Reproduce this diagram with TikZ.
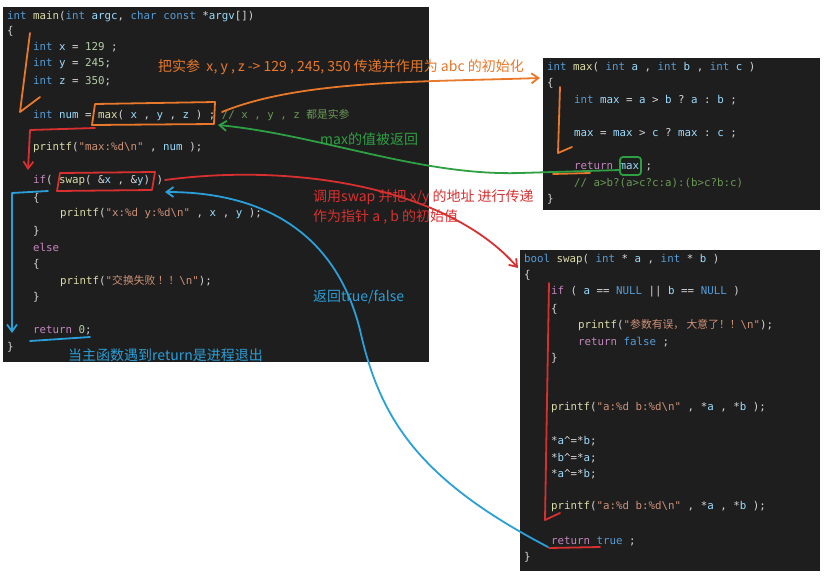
\documentclass[tikz,border=0pt]{standalone}
\usepackage{fontspec}
\setmonofont{DejaVu Sans Mono}
\newfontfamily\cjk{Noto Sans CJK SC}
\usetikzlibrary{arrows.meta}
\definecolor{bgc}{HTML}{1E1E1E}
\definecolor{kwc}{HTML}{569CD6}
\definecolor{fnc}{HTML}{DCDCAA}
\definecolor{vrc}{HTML}{9CDCFE}
\definecolor{nuc}{HTML}{B5CEA8}
\definecolor{stc}{HTML}{CE9178}
\definecolor{pkc}{HTML}{C586C0}
\definecolor{cmc}{HTML}{6A9955}
\definecolor{dfc}{HTML}{D4D4D4}
\definecolor{ora}{HTML}{E8782A}
\definecolor{grn}{HTML}{2EA043}
\definecolor{rdd}{HTML}{D83030}
\definecolor{blu}{HTML}{2A9FD8}
\newcommand\KW[1]{\textcolor{kwc}{#1}}
\newcommand\FN[1]{\textcolor{fnc}{#1}}
\newcommand\VR[1]{\textcolor{vrc}{#1}}
\newcommand\NU[1]{\textcolor{nuc}{#1}}
\newcommand\ST[1]{\textcolor{stc}{#1}}
\newcommand\PK[1]{\textcolor{pkc}{#1}}
\newcommand\CM[1]{\textcolor{cmc}{#1}}
\newcommand\ZH[1]{{\cjk #1}}
\begin{document}
\begin{tikzpicture}[x=1pt,y=-1pt,
  code/.style={anchor=west,inner sep=0pt,text=dfc,font=\ttfamily\fontsize{10.8}{13}\selectfont},
  note/.style={anchor=west,inner sep=0pt,font=\cjk\fontsize{14}{16}\selectfont},
  pen/.style={line width=1.8pt,line cap=round,line join=round},
  tip/.style={-{Straight Barb[length=7pt,width=10pt]}}]
\useasboundingbox (0,0) rectangle (836,579);
\fill[white] (0,0) rectangle (836,579);
% panels
\fill[bgc] (3,7) rectangle (429,362);
\fill[bgc] (543,58) rectangle (820,210);
\fill[bgc] (520,250) rectangle (820,571);
% main
\node[code] (m1) at (7,17) {\KW{int} \FN{main}(\KW{int} \VR{argc}, \KW{char} \KW{const} *\VR{argv}[])};
\node[code] (m2) at (7,31) {\{};
\node[code] (m3) at (33,47) {\KW{int} \VR{x} = \NU{129} ;};
\node[code] (m4) at (33,64) {\KW{int} \VR{y} = \NU{245};};
\node[code] (m5) at (33,81) {\KW{int} \VR{z} = \NU{350};};
\node[code] (m6) at (33,115) {\KW{int} \VR{num} = \FN{max}( \VR{x} , \VR{y} , \VR{z} ) ; \CM{// x , y , z \ZH{都是实参}}};
\node[code] (m7) at (33,148) {\FN{printf}(\ST{"max:\%d\textbackslash n"} , \VR{num} );};
\node[code] (m8) at (33,181) {\PK{if}( \FN{swap}( \&\VR{x} , \&\VR{y}) )};
\node[code] (m9) at (33,198) {\{};
\node[code] (m10) at (60,214) {\FN{printf}(\ST{"x:\%d y:\%d\textbackslash n"} , \VR{x} , \VR{y} );};
\node[code] (m11) at (33,231) {\}};
\node[code] (m12) at (33,247) {\PK{else}};
\node[code] (m13) at (33,264) {\{};
\node[code] (m14) at (60,281) {\FN{printf}(\ST{"\ZH{交换失败 ！！}\textbackslash n"});};
\node[code] (m15) at (33,297) {\}};
\node[code] (m16) at (33,330) {\PK{return} \NU{0};};
\node[code] (m17) at (7,347) {\}};
% max
\node[code] (x1) at (547,67) {\KW{int} \FN{max}( \KW{int} \VR{a} , \KW{int} \VR{b} , \KW{int} \VR{c} )};
\node[code] (x2) at (547,83) {\{};
\node[code] (x3) at (574,100) {\KW{int} \VR{max} = \VR{a} > \VR{b} ? \VR{a} : \VR{b} ;};
\node[code] (x4) at (574,133) {\VR{max} = \VR{max} > \VR{c} ? \VR{max} : \VR{c} ;};
\node[code] (x5) at (574,166) {\PK{return} \VR{max} ;};
\node[code] (x6) at (574,183) {\CM{// a>b?(a>c?c:a):(b>c?b:c)}};
\node[code] (x7) at (547,199) {\}};
% swap
\node[code] (s1) at (524,259) {\KW{bool} \FN{swap}( \KW{int} * \VR{a} , \KW{int} * \VR{b} )};
\node[code] (s2) at (524,275) {\{};
\node[code] (s3) at (551,292) {\PK{if} ( \VR{a} == \KW{NULL} || \VR{b} == \KW{NULL} )};
\node[code] (s4) at (551,309) {\{};
\node[code] (s5) at (578,325) {\FN{printf}(\ST{"\ZH{参数有误，\ 大意了！！}\textbackslash n"});};
\node[code] (s6) at (578,342) {\PK{return} \KW{false} ;};
\node[code] (s7) at (551,358) {\}};
\node[code] (s8) at (551,408) {\FN{printf}(\ST{"a:\%d b:\%d\textbackslash n"} , *\VR{a} , *\VR{b} );};
\node[code] (s9) at (551,441) {*\VR{a}\textasciicircum=*\VR{b};};
\node[code] (s10) at (551,458) {*\VR{b}\textasciicircum=*\VR{a};};
\node[code] (s11) at (551,474) {*\VR{a}\textasciicircum=*\VR{b};};
\node[code] (s12) at (551,507) {\FN{printf}(\ST{"a:\%d b:\%d\textbackslash n"} , *\VR{a} , *\VR{b} );};
\node[code] (s13) at (551,541) {\PK{return} \KW{true} ;};
\node[code] (s14) at (524,557) {\}};
% notes
\node[note,text=ora] (n1) at (158,67) {把实参\ \ x, y , z -> 129 , 245, 350 传递并作用为 abc 的初始化};
\node[note,text=grn] (n2) at (320,139) {max的值被返回};
\node[note,text=rdd] (n3) at (313,197) {调用swap 并把 x/y 的地址 进行传递};
\node[note,text=rdd] (n4) at (313,217) {作为指针 a , b 的初始值};
\node[note,text=blu] (n5) at (313,297) {返回true/false};
\node[note,text=blu] (n6) at (68,355) {当主函数遇到return是进程退出};
% orange strokes
\draw[pen,ora] (30,33) -- (20,112) -- (40,97);
\draw[pen,ora] (95,104) -- (215,102) -- (214,124) -- (92,125) -- cycle;
\draw[pen,ora,tip] (222,112) .. controls (300,80) and (420,82) .. (540,78);
\draw[pen,ora] (560,87) -- (558,153) -- (572,147);
\draw[pen,ora] (553,174) -- (590,173);
% green strokes
\draw[pen,grn,rounded corners=3pt] (620,157) rectangle (641,175);
\draw[pen,grn,tip] (620,170) -- (520,173) .. controls (420,176) and (320,135) .. (218,125);
% red strokes
\draw[pen,rdd,tip] (95,128) -- (30,130) -- (28,170);
\draw[pen,rdd] (60,173) -- (155,172) -- (152,190) -- (57,191) -- cycle;
\draw[pen,rdd,tip] (165,180) .. controls (300,162) and (450,190) .. (518,268);
\draw[pen,rdd] (549,283) -- (545,520) -- (560,513);
\draw[pen,rdd] (549,548) -- (600,547);
% blue strokes
\draw[pen,blu,tip] (48,191) -- (12,193) -- (12,333);
\draw[pen,blu] (30,341) -- (90,337);
\draw[pen,blu,tip] (548,547) .. controls (420,480) and (380,420) .. (360,330) .. controls (335,230) and (260,192) .. (165,192);
\end{tikzpicture}
\end{document}
